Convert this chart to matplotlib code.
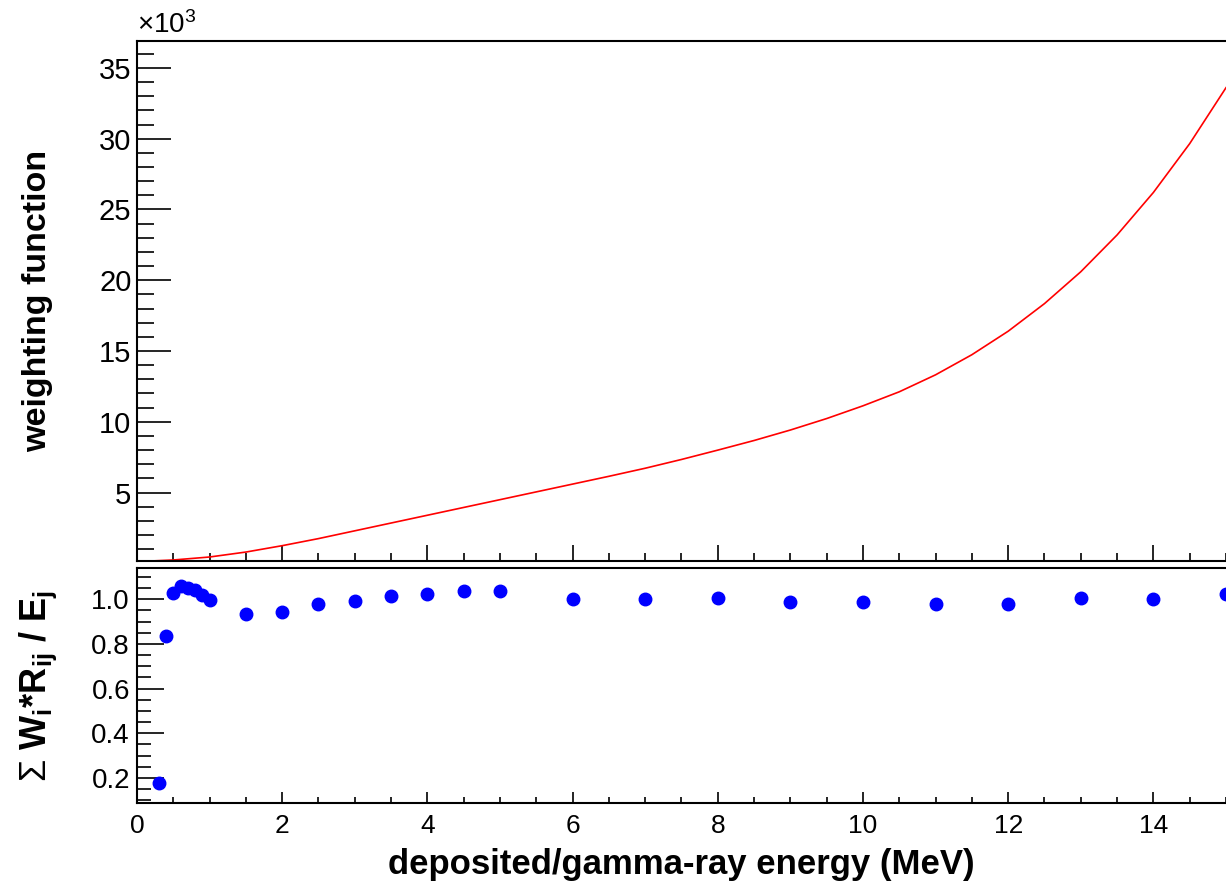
import numpy as np
import matplotlib
matplotlib.use("Agg")
import matplotlib.pyplot as plt
from matplotlib.ticker import MultipleLocator

plt.rcParams['font.family'] = ['Liberation Sans', 'DejaVu Sans']
plt.rcParams['mathtext.fontset'] = 'custom'
plt.rcParams['mathtext.rm'] = 'Liberation Sans'
plt.rcParams['mathtext.bf'] = 'Liberation Sans:bold'
plt.rcParams['mathtext.it'] = 'Liberation Sans:italic'

# weighting function (units of 10^3)
w_energy = [0.2, 0.5, 1.0, 1.5, 2.0, 2.5, 3.0, 3.5, 4.0, 4.5, 5.0, 5.5, 6.0, 6.5,
            7.0, 7.5, 8.0, 8.5, 9.0, 9.5, 10.0, 10.5, 11.0, 11.5, 12.0, 12.5,
            13.0, 13.5, 14.0, 14.5, 15.0]
w_value = [0.17, 0.24, 0.45, 0.80, 1.25, 1.75, 2.30, 2.85, 3.40, 3.95, 4.50,
           5.05, 5.60, 6.15, 6.72, 7.34, 8.00, 8.68, 9.42, 10.23, 11.13, 12.12,
           13.32, 14.74, 16.40, 18.35, 20.60, 23.20, 26.20, 29.65, 33.60]

# sum W_i*R_ij / E_j per gamma-ray energy
g_energy = [0.3, 0.4, 0.5, 0.6, 0.7, 0.8, 0.9, 1.0, 1.5, 2.0, 2.5, 3.0, 3.5, 4.0,
            4.5, 5.0, 6.0, 7.0, 8.0, 9.0, 10.0, 11.0, 12.0, 13.0, 14.0, 15.0]
g_ratio = [0.176, 0.835, 1.030, 1.058, 1.052, 1.040, 1.018, 0.995, 0.936, 0.943,
           0.978, 0.993, 1.016, 1.025, 1.036, 1.036, 1.000, 1.000, 1.006, 0.986,
           0.986, 0.980, 0.980, 1.006, 1.000, 1.025]

fig = plt.figure(figsize=(12.26, 8.91), dpi=100)
ax1 = fig.add_axes([0.1117, 0.3704, 0.8883, 0.5836])
ax2 = fig.add_axes([0.1117, 0.0988, 0.8883, 0.2637])

ax1.plot(w_energy, w_value, color='red', lw=1.2)
ax1.set_xlim(0, 15)
ax1.set_ylim(0.17, 36.9)
ax1.xaxis.set_major_locator(MultipleLocator(2))
ax1.xaxis.set_minor_locator(MultipleLocator(0.5))
ax1.yaxis.set_major_locator(MultipleLocator(5))
ax1.yaxis.set_minor_locator(MultipleLocator(1))
ax1.tick_params(axis='x', which='both', direction='in', labelbottom=False, top=False)
ax1.tick_params(axis='x', which='major', length=11.5, width=1.2)
ax1.tick_params(axis='x', which='minor', length=5.8, width=1.2)
ax1.tick_params(axis='y', which='both', direction='in', right=False, pad=4, labelsize=21)
ax1.tick_params(axis='y', which='major', length=24.5, width=1.2)
ax1.tick_params(axis='y', which='minor', length=12, width=1.2)
ax1.set_yticks([5, 10, 15, 20, 25, 30, 35])
ax1.set_ylabel('weighting function', fontsize=24.5, fontweight='bold')
ax1.text(0.0, 1.003, r'$\times10^{3}$', transform=ax1.transAxes, fontsize=20,
         ha='left', va='bottom')

ax2.plot(g_energy, g_ratio, 'o', color='blue', ms=9)
ax2.set_xlim(0, 15)
ax2.set_ylim(0.088, 1.14)
ax2.xaxis.set_major_locator(MultipleLocator(2))
ax2.xaxis.set_minor_locator(MultipleLocator(0.5))
ax2.yaxis.set_major_locator(MultipleLocator(0.2))
ax2.yaxis.set_minor_locator(MultipleLocator(0.05))
ax2.set_yticks([0.2, 0.4, 0.6, 0.8, 1.0])
ax2.tick_params(axis='x', which='both', direction='in', top=False, pad=8, labelsize=19)
ax2.tick_params(axis='x', which='major', length=8, width=1.2)
ax2.tick_params(axis='x', which='minor', length=4, width=1.2)
ax2.tick_params(axis='y', which='both', direction='in', right=False, pad=5, labelsize=20)
ax2.tick_params(axis='y', which='major', length=19.5, width=1.2)
ax2.tick_params(axis='y', which='minor', length=10, width=1.2)
ax2.set_ylabel(r'$\Sigma$ $\mathbf{W_i{*}R_{ij}\ /\ E_j}$', fontsize=26)
ax2.set_xlabel('deposited/gamma-ray energy (MeV)', fontsize=25, fontweight='bold', labelpad=7)

for ax in (ax1, ax2):
    ax.spines['right'].set_visible(False)
    for s in ('left', 'top', 'bottom'):
        ax.spines[s].set_linewidth(1.5)

ax1.yaxis.set_label_coords(-0.077, 0.5)
ax2.yaxis.set_label_coords(-0.072, 0.5)

fig.savefig('out.png', dpi=100)
